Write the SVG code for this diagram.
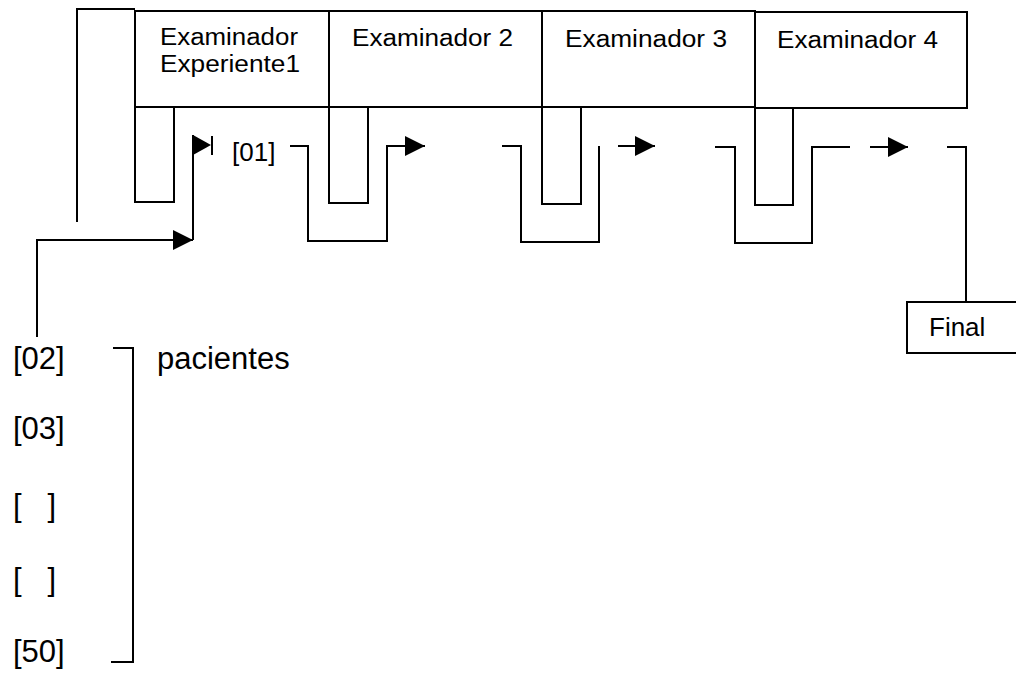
<svg xmlns="http://www.w3.org/2000/svg" width="1016" height="673" viewBox="0 0 1016 673">
<style>
.ln{fill:none;stroke:#000;stroke-width:2;stroke-linejoin:miter}
.box{fill:#fff;stroke:#000;stroke-width:2}
.hd{font-family:"Liberation Sans",Arial,sans-serif;font-size:23px;fill:#000}
.lb{font-family:"Liberation Sans",Arial,sans-serif;font-size:26px;fill:#000}
.ls{font-family:"Liberation Sans",Arial,sans-serif;font-size:31px;fill:#000}
.tri{fill:#000;stroke:none}
</style>
<defs>
<marker id="arr" markerUnits="userSpaceOnUse" markerWidth="21" markerHeight="21" refX="20" refY="10" orient="auto" viewBox="0 0 21 21">
<path d="M0,0 L20,10 L0,20 z" fill="#000"/>
</marker>
</defs>
<g id="exam1">
<rect class="box" x="135" y="11" width="194" height="96"/>
<rect class="box" x="135" y="107" width="39" height="95"/>
<text class="hd" x="160" y="45" textLength="138" lengthAdjust="spacingAndGlyphs">Examinador</text>
<text class="hd" x="160" y="72" textLength="140" lengthAdjust="spacingAndGlyphs">Experiente1</text>
</g>
<g id="exam2">
<rect class="box" x="329" y="11" width="213" height="96"/>
<rect class="box" x="329" y="107" width="39" height="96"/>
<text class="hd" x="352" y="46" textLength="161" lengthAdjust="spacingAndGlyphs">Examinador 2</text>
</g>
<g id="exam3">
<rect class="box" x="542" y="11" width="213" height="96"/>
<rect class="box" x="542" y="107" width="39" height="97"/>
<text class="hd" x="565" y="47" textLength="162" lengthAdjust="spacingAndGlyphs">Examinador 3</text>
</g>
<g id="exam4">
<rect class="box" x="755" y="12" width="212" height="96"/>
<rect class="box" x="755" y="108" width="38" height="97"/>
<text class="hd" x="777" y="48" textLength="161" lengthAdjust="spacingAndGlyphs">Examinador 4</text>
</g>
<g id="final">
<rect class="box" x="907" y="302" width="130" height="51"/>
<text class="lb" x="929" y="336">Final</text>
</g>
<g id="patient01">
<text class="lb" x="232" y="161">[01]</text>
</g>
<g id="patients">
<text class="ls" x="13" y="369">[02]</text>
<text class="ls" x="13" y="439">[03]</text>
<text class="ls" x="13" y="516" xml:space="preserve">[   ]</text>
<text class="ls" x="13" y="590" xml:space="preserve">[   ]</text>
<text class="ls" x="13" y="662">[50]</text>
<path class="ln" d="M113,348 H133 V662 H111"/>
<text class="ls" x="157" y="369">pacientes</text>
</g>
<g id="connectors">
<path class="ln" d="M77,222 V9 H135"/>
<path class="ln" d="M37,337 V240 H193" marker-end="url(#arr)"/>
<path class="ln" d="M193,240 V135"/>
<path class="tri" d="M193,135 L211,145 L193,155 z"/>
<path class="ln" d="M212,136 V155"/>
<path class="ln" d="M290,146 H308 V241 H387 V146 H425" marker-end="url(#arr)"/>
<path class="ln" d="M502,146 H521 V242 H599 V146"/>
<path class="ln" d="M618,146 H655" marker-end="url(#arr)"/>
<path class="ln" d="M715,147 H735 V243 H812 V147 H850"/>
<path class="ln" d="M870,147 H908" marker-end="url(#arr)"/>
<path class="ln" d="M947,147 H966 V302"/>
</g>
</svg>
